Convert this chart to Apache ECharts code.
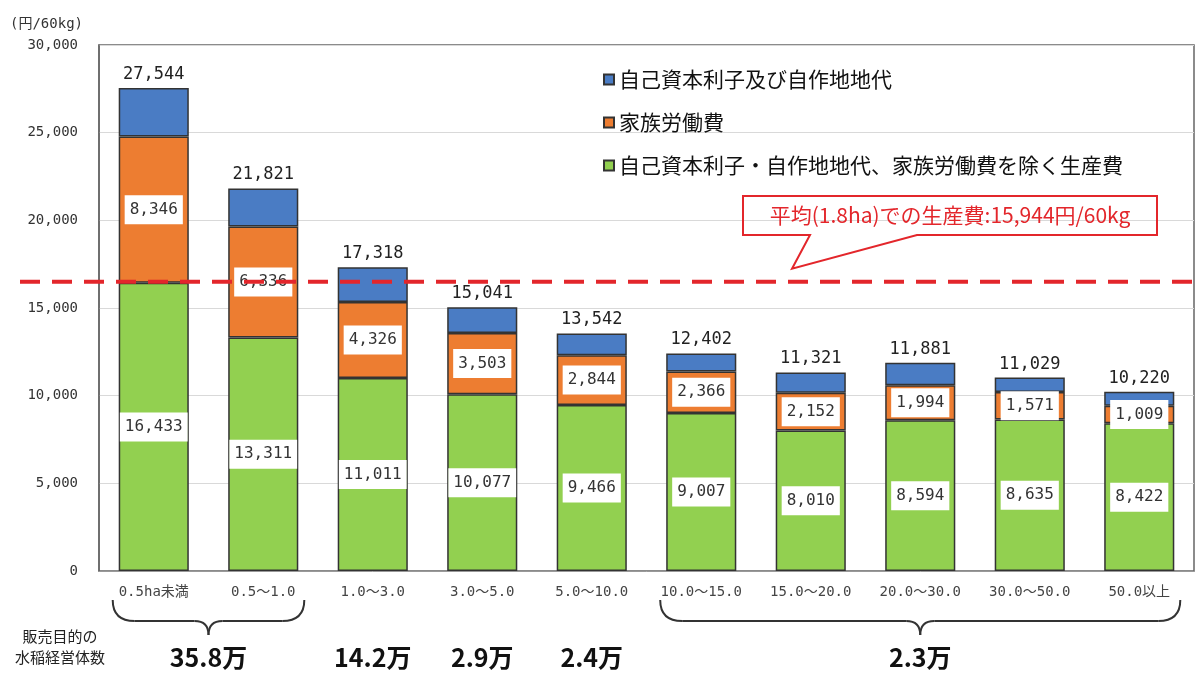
<!DOCTYPE html>
<html>
<head>
<meta charset="utf-8">
<script src="https://cdn.jsdelivr.net/npm/echarts@6/dist/echarts.min.js"></script>
<style>
  html, body { margin: 0; background: #fff; }
  #chart { width: 1200px; height: 675px; }
</style>
</head>
<body>
<div id="chart"></div>
<script>
// 規模別 米の生産費（円/60kg）
const categories = ['0.5ha未満', '0.5～1.0', '1.0～3.0', '3.0～5.0', '5.0～10.0',
  '10.0～15.0', '15.0～20.0', '20.0～30.0', '30.0～50.0', '50.0以上'];
const otherCost   = [16433, 13311, 11011, 10077, 9466, 9007, 8010, 8594, 8635, 8422];
const familyLabor = [8346, 6336, 4326, 3503, 2844, 2366, 2152, 1994, 1571, 1009];
const capitalLand = [2765, 2174, 1981, 1461, 1232, 1029, 1159, 1293, 823, 789];
const seriesNames = ['自己資本利子及び自作地地代', '家族労働費', '自己資本利子・自作地地代、家族労働費を除く生産費'];

const yMin = 0, yMax = 30000, yStep = 5000;
const yUnit = '(円/60kg)';

// the dashed average line, as placed in the picture
const avgLevel = 16500;
const avgNote = '平均(1.8ha)での生産費:15,944円/60kg';

// 販売目的の水稲経営体数, by group of size classes
const countLabel = '販売目的の\n水稲経営体数';
const farmCounts  = ['35.8万', '14.2万', '2.9万', '2.4万', '2.3万'];
const countGroups = [[0, 1], [2, 2], [3, 3], [4, 4], [5, 9]];

const MONO = "'DejaVu Sans Mono', 'Noto Sans CJK JP', monospace";
const SANS = "'Noto Sans CJK JP', 'Noto Sans', sans-serif";
const fmt = v => Number(v).toLocaleString('en-US');

const chart = echarts.init(document.getElementById('chart'));

const innerLabel = {
  show: true,
  position: 'inside',
  formatter: p => fmt(p.value),
  backgroundColor: '#fff',
  padding: [7, 5, 6, 5],
  color: '#333',
  fontSize: 16,
  fontFamily: MONO
};
const barBorder = { borderColor: '#333', borderWidth: 1.5 };

chart.setOption({
  animation: false,
  textStyle: { fontFamily: SANS },
  grid: {
    left: 99, right: 6, top: 45, bottom: 104,
    show: true, borderColor: '#666', borderWidth: 1.5
  },
  legend: {
    data: seriesNames,
    orient: 'vertical',
    left: 598, top: 64,
    itemGap: 22,
    itemWidth: 10, itemHeight: 10,
    icon: 'rect',
    textStyle: { fontSize: 21, color: '#111', fontFamily: SANS }
  },
  xAxis: {
    type: 'category',
    data: categories,
    axisTick: { show: false },
    axisLine: { lineStyle: { color: '#999' } },
    axisLabel: { interval: 0, margin: 14, fontSize: 14, color: '#444', fontFamily: MONO }
  },
  yAxis: {
    type: 'value',
    min: yMin, max: yMax, interval: yStep,
    name: yUnit,
    nameLocation: 'end',
    nameGap: 14,
    nameTextStyle: { align: 'right', verticalAlign: 'bottom', padding: [0, 16, 0, 0], fontSize: 14, color: '#333', fontFamily: MONO },
    axisLine: { show: true, lineStyle: { color: '#666', width: 1.5 } },
    axisTick: { show: false },
    splitLine: { lineStyle: { color: '#d9d9d9', width: 1.2 } },
    axisLabel: { formatter: fmt, margin: 21, fontSize: 14, color: '#333', fontFamily: MONO }
  },
  series: [
    {
      name: seriesNames[2], type: 'bar', stack: 'cost', barWidth: '64%',
      data: otherCost,
      itemStyle: Object.assign({ color: '#92d050' }, barBorder),
      label: innerLabel
    },
    {
      name: seriesNames[1], type: 'bar', stack: 'cost',
      data: familyLabor,
      itemStyle: Object.assign({ color: '#ed7d31' }, barBorder),
      label: innerLabel
    },
    {
      name: seriesNames[0], type: 'bar', stack: 'cost',
      data: capitalLand,
      itemStyle: Object.assign({ color: '#4a7cc4' }, barBorder),
      label: {
        show: true,
        position: 'top',
        distance: 5,
        formatter: p => fmt(otherCost[p.dataIndex] + familyLabor[p.dataIndex] + capitalLand[p.dataIndex]),
        color: '#222',
        fontSize: 17,
        fontFamily: MONO
      }
    }
  ]
});

// annotations placed from the axes' own scales
function drawNotes() {
  const xAt = i => chart.convertToPixel({ xAxisIndex: 0 }, i);
  const band = xAt(1) - xAt(0);
  const half = band * 0.32 + 6;
  const lineY = chart.convertToPixel({ yAxisIndex: 0 }, avgLevel);
  const plotRight = 1200 - 6;

  const els = [];

  // dashed average line (runs past the axis, as in the source)
  els.push({
    type: 'line', z: 100,
    shape: { x1: 20, y1: lineY, x2: plotRight, y2: lineY },
    style: { stroke: '#e3262b', lineWidth: 4, lineDash: [20, 12] }
  });

  // callout box with tail pointing at the line
  const bx1 = 743, bx2 = 1157, by1 = 196, by2 = 235;
  const tipY = lineY - 13;
  els.push({
    type: 'polygon', z: 100,
    shape: { points: [[bx1, by1], [bx2, by1], [bx2, by2], [917, by2], [792, tipY], [810, by2], [bx1, by2]] },
    style: { fill: 'none', stroke: '#e3262b', lineWidth: 2 }
  });
  els.push({
    type: 'text', z: 101,
    x: (bx1 + bx2) / 2, y: (by1 + by2) / 2,
    style: { text: avgNote, fill: '#e3262b', fontSize: 21, fontFamily: SANS, align: 'center', verticalAlign: 'middle' }
  });

  // braces and farm counts
  const yTop = 600, yMid = 621, yTip = 635, r = 22;
  const braceStyle = { fill: 'none', stroke: '#333', lineWidth: 2 };
  const curve = (x1, y1, cx, cy, x2, y2) => ({
    type: 'bezierCurve', z: 100,
    shape: { x1, y1, x2, y2, cpx1: cx, cpy1: cy },
    style: braceStyle
  });
  const seg = (x1, x2, y) => ({
    type: 'line', z: 100,
    shape: { x1, y1: y, x2, y2: y },
    style: braceStyle
  });
  countGroups.forEach((g, k) => {
    const a = xAt(g[0]) - half, b = xAt(g[1]) + half;
    const m = (xAt(g[0]) + xAt(g[1])) / 2;
    if (g[1] > g[0]) {
      els.push(curve(a, yTop, a, yMid, a + r, yMid));
      els.push(seg(a + r, m - 14, yMid));
      els.push(curve(m - 14, yMid, m, yMid, m, yTip));
      els.push(curve(m, yTip, m, yMid, m + 14, yMid));
      els.push(seg(m + 14, b - r, yMid));
      els.push(curve(b - r, yMid, b, yMid, b, yTop));
    }
    els.push({
      type: 'text', z: 100,
      x: m, y: 657,
      style: { text: farmCounts[k], fill: '#111', fontSize: 25, fontWeight: 'bold', fontFamily: SANS, align: 'center', verticalAlign: 'middle' }
    });
  });

  els.push({
    type: 'text', z: 100,
    x: 60, y: 647,
    style: { text: countLabel, fill: '#222', fontSize: 15, lineHeight: 21, fontFamily: SANS, align: 'center', verticalAlign: 'middle' }
  });

  chart.setOption({ graphic: { elements: els } });
}

drawNotes();
</script>
</body>
</html>
